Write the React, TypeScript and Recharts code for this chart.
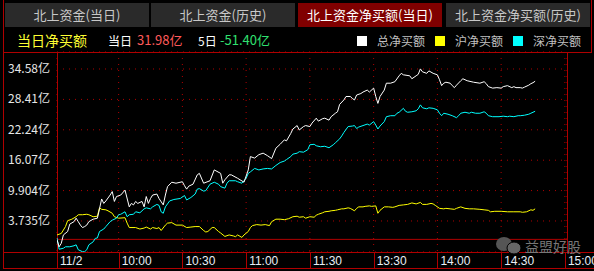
import React from 'react';
import { LineChart, Line, XAxis, YAxis, CartesianGrid, ReferenceLine } from 'recharts';

// minute index (1 = 9:31, 120 = 11:30, 240 = 15:00) and net buy in 亿
const TOTAL: Array<[number, number]> = [
  [1, -0.1], [2, -1.5], [3, -0.8], [4, 0.9], [6, 1.6], [7, 3.1], [9, 3.6], [10, 4.3], [11, 3.6], [12, 2.9],
  [13, 2.4], [14, 2.6], [15, 2.9], [16, 3.6], [18, 4.1], [20, 4.3], [21, 6.2], [22, 8.2], [23, 7.3], [24, 7.8],
  [26, 9.0], [27, 9.7], [28, 7.7], [29, 8.7], [31, 9.0], [33, 10.0], [35, 6.6], [36, 7.3], [37, 7.0], [38, 7.7],
  [39, 7.3], [41, 7.7], [42, 6.6], [43, 8.7], [44, 7.3], [45, 8.3], [46, 9.0], [48, 9.2], [49, 8.3], [51, 7.0],
  [52, 9.0], [53, 10.7], [55, 11.6], [57, 11.4], [60, 11.7], [61, 10.9], [62, 10.2], [63, 10.8], [65, 11.2], [67, 13.1],
  [68, 13.4], [70, 11.4], [73, 11.9], [75, 14.1], [78, 13.4], [79, 11.4], [80, 12.1], [82, 13.1], [83, 13.1], [86, 12.4],
  [89, 11.6], [91, 14.1], [92, 16.8], [94, 16.5], [96, 17.2], [98, 17.5], [100, 17.0], [102, 16.4], [104, 18.5], [106, 19.3],
  [108, 20.2], [109, 20.0], [111, 21.5], [112, 22.4], [114, 23.1], [115, 22.2], [117, 22.9], [118, 23.1], [120, 22.9], [121, 23.6],
  [123, 24.6], [124, 24.0], [126, 24.5], [127, 24.6], [129, 24.2], [130, 24.9], [132, 25.6], [133, 25.9], [134, 27.4], [136, 28.3],
  [137, 29.0], [139, 29.0], [140, 28.6], [141, 28.3], [142, 29.3], [144, 29.6], [145, 29.9], [147, 30.3], [148, 29.9], [150, 30.7],
  [151, 29.0], [152, 27.6], [153, 29.0], [155, 30.3], [156, 31.7], [158, 31.7], [160, 32.0], [162, 33.2], [163, 33.7], [164, 33.4],
  [167, 33.2], [168, 32.6], [170, 33.2], [171, 33.5], [172, 34.6], [173, 34.0], [175, 33.7], [176, 34.2], [178, 33.7], [180, 33.4],
  [181, 32.4], [182, 31.2], [183, 31.7], [184, 31.9], [186, 31.7], [187, 31.2], [188, 30.8], [189, 31.3], [191, 32.2], [192, 32.6],
  [194, 32.2], [197, 31.9], [200, 31.7], [202, 32.0], [203, 31.6], [204, 31.0], [206, 30.7], [208, 30.8], [210, 30.7], [211, 31.0],
  [213, 31.2], [215, 30.8], [216, 31.0], [217, 30.8], [219, 30.8], [220, 30.7], [221, 30.9], [223, 31.3], [224, 31.6], [225, 31.8],
  [226, 32.1],
];

const SH: Array<[number, number]> = [
  [1, 0.9], [3, 1.2], [5, 2.6], [6, 3.8], [8, 4.1], [10, 4.6], [11, 5.0], [13, 5.0], [15, 5.1], [16, 5.0],
  [18, 4.6], [20, 4.7], [21, 6.4], [22, 6.1], [24, 6.0], [25, 5.8], [27, 5.3], [28, 4.6], [30, 4.3], [33, 4.4],
  [34, 3.3], [35, 2.4], [38, 2.4], [40, 2.1], [42, 2.3], [43, 2.5], [45, 2.1], [46, 2.4], [48, 2.2], [49, 2.4],
  [50, 1.8], [52, 2.9], [53, 3.3], [55, 3.4], [57, 2.9], [60, 2.9], [62, 2.4], [64, 2.5], [66, 2.6], [68, 2.6],
  [70, 1.8], [71, 1.5], [72, 1.6], [74, 2.4], [75, 2.4], [77, 1.6], [78, 1.3], [80, 0.6], [82, 0.9], [84, 0.7],
  [85, 0.55], [86, 0.9], [88, 0.4], [89, 0.9], [91, 1.6], [92, 2.4], [93, 2.8], [95, 3.0], [97, 2.9], [99, 3.0],
  [101, 2.8], [102, 3.6], [104, 4.1], [106, 4.1], [108, 4.0], [110, 4.2], [112, 4.6], [114, 4.7], [115, 4.5], [117, 4.6],
  [118, 4.3], [120, 4.6], [122, 4.5], [123, 4.9], [124, 5.1], [126, 5.4], [127, 5.6], [129, 5.7], [130, 5.8], [132, 5.9],
  [133, 6.0], [135, 6.2], [136, 6.2], [138, 6.4], [139, 6.3], [141, 5.8], [142, 6.3], [143, 6.6], [145, 6.6], [146, 6.7],
  [148, 6.8], [149, 6.7], [151, 6.8], [152, 5.3], [153, 5.9], [155, 6.6], [157, 6.6], [159, 6.5], [160, 6.6], [162, 6.9],
  [164, 7.0], [166, 7.1], [168, 7.4], [170, 7.2], [172, 7.5], [173, 7.1], [175, 7.1], [177, 7.3], [178, 7.2], [179, 6.9],
  [181, 6.3], [183, 6.2], [184, 6.3], [186, 6.2], [188, 6.1], [189, 6.3], [191, 6.6], [193, 6.3], [195, 6.2], [197, 6.2],
  [200, 6.1], [202, 6.0], [204, 5.9], [205, 5.6], [207, 5.7], [210, 5.7], [213, 5.6], [216, 5.6], [219, 5.6], [220, 5.5],
  [222, 5.6], [224, 6.0], [225, 5.9], [226, 6.2],
];

const SZ: Array<[number, number]> = [
  [1, 0.3], [2, -2.0], [4, -1.8], [5, -1.5], [7, -1.5], [9, -1.3], [10, -1.1], [11, -2.1], [13, -2.5], [14, -2.5],
  [15, -2.1], [16, -1.1], [18, -0.5], [19, 0.2], [20, 0.3], [21, 1.6], [23, 2.1], [24, 2.6], [26, 3.6], [27, 3.9],
  [29, 4.3], [30, 5.0], [31, 5.1], [33, 5.6], [34, 4.6], [35, 5.0], [37, 5.1], [38, 5.6], [40, 5.4], [42, 6.2],
  [43, 6.4], [45, 6.2], [46, 6.6], [48, 7.1], [49, 6.9], [50, 5.6], [51, 5.3], [52, 6.6], [53, 7.2], [54, 7.8],
  [56, 8.1], [59, 8.3], [61, 8.9], [62, 8.0], [64, 8.5], [66, 9.2], [67, 10.2], [68, 10.3], [70, 9.8], [71, 9.9],
  [73, 11.2], [75, 11.6], [77, 11.2], [78, 10.7], [80, 10.4], [81, 11.4], [82, 11.9], [85, 11.9], [86, 11.7], [88, 11.4],
  [90, 12.4], [91, 13.4], [92, 13.7], [94, 14.4], [96, 14.1], [98, 14.3], [100, 14.4], [102, 14.3], [104, 15.0], [105, 15.3],
  [106, 15.6], [108, 15.9], [109, 16.2], [111, 16.8], [112, 17.3], [114, 17.5], [115, 17.8], [117, 17.7], [119, 18.2], [120, 19.2],
  [122, 19.3], [123, 19.0], [125, 18.8], [127, 18.9], [129, 18.6], [131, 19.2], [132, 19.6], [134, 20.4], [135, 21.0], [136, 21.7],
  [138, 22.9], [140, 23.0], [141, 23.1], [142, 22.5], [143, 22.8], [145, 23.1], [147, 23.4], [148, 23.2], [150, 23.9], [151, 23.2],
  [152, 22.4], [153, 23.0], [155, 23.9], [156, 24.9], [158, 25.1], [160, 25.1], [161, 25.6], [162, 25.8], [164, 26.6], [165, 26.0],
  [166, 25.8], [168, 25.9], [170, 26.1], [171, 26.5], [172, 27.3], [173, 26.7], [175, 26.5], [176, 26.7], [178, 26.6], [180, 26.3],
  [181, 25.6], [182, 25.1], [183, 25.6], [185, 25.4], [187, 25.1], [189, 24.7], [190, 25.1], [191, 25.6], [193, 25.8], [195, 25.6],
  [196, 25.8], [198, 25.6], [200, 25.6], [202, 25.9], [203, 25.6], [204, 25.1], [206, 24.9], [209, 24.9], [211, 25.0], [213, 24.9],
  [214, 25.0], [216, 24.9], [218, 25.1], [219, 25.1], [221, 25.2], [223, 25.4], [224, 25.6], [226, 26.0],
];

const X_TICKS = [1, 30, 60, 90, 120, 150, 180, 210, 240];
const X_LABELS = ['11/2', '10:00', '10:30', '11:00', '11:30', '13:30', '14:00', '14:30', '15:00'];
const Y_TICKS = [3.735, 9.904, 16.073, 22.242, 28.411, 34.58];
const Y_LABELS = ['3.735亿', '9.904亿', '16.07亿', '22.24亿', '28.41亿', '34.58亿'];

const TABS = ['北上资金(当日)', '北上资金(历史)', '北上资金净买额(当日)', '北上资金净买额(历史)'];
const ACTIVE_TAB = 2;
const LEGEND = [
  { name: '总净买额', color: '#ffffff' },
  { name: '沪净买额', color: '#ffff00' },
  { name: '深净买额', color: '#00ffff' },
];

const RED = '#b00000';
const GRID = '#b00000';
const FONT = '"Noto Sans CJK SC", "Noto Sans", sans-serif';

const toRows = (pts: Array<[number, number]>) => pts.map(([t, v]) => ({ t, v }));

function XTick({ x, payload }: any) {
  const i = X_TICKS.indexOf(payload.value);
  const lx = Math.round(x) + 0.5;
  return (
    <g>
      <line x1={lx} x2={lx} y1={252} y2={269} stroke={RED} />
      <text x={x + 3} y={265} fill="#e8eef6" fontSize={12} fontFamily='"Liberation Sans", Arial, sans-serif'>
        {X_LABELS[i]}
      </text>
    </g>
  );
}

function YTick({ y, payload }: any) {
  const i = Y_TICKS.indexOf(payload.value);
  return (
    <text x={50} y={y + 4} textAnchor="end" fill="#e6e6e6" fontSize={12} fontFamily={FONT}>
      {Y_LABELS[i]}
    </text>
  );
}

export default function App() {
  const tabLeft = [5, 151, 298, 446];
  return (
    <div style={{ position: 'absolute', left: 0, top: 0, width: 594, height: 271, background: '#000', overflow: 'hidden', fontFamily: FONT }}>
      {TABS.map((t, i) => (
        <div
          key={t}
          style={{
            position: 'absolute', left: tabLeft[i], top: 3, width: 144, height: 24, lineHeight: '24px', textAlign: 'center',
            fontSize: 13, background: i === ACTIVE_TAB ? '#800000' : '#2a2a2a', color: i === ACTIVE_TAB ? '#fff' : '#c8c8c8',
          }}
        >
          {t}
        </div>
      ))}
      <div style={{ position: 'absolute', left: 17, top: 31, fontSize: 14, lineHeight: '18px', color: '#ffff33' }}>当日净买额</div>
      <div style={{ position: 'absolute', left: 108, top: 32, fontSize: 12, lineHeight: '17px', color: '#fff' }}>当日</div>
      <div style={{ position: 'absolute', left: 137, top: 31, fontSize: 13, lineHeight: '18px', color: '#ff5a5a' }}>31.98亿</div>
      <div style={{ position: 'absolute', left: 198, top: 32, fontSize: 12, lineHeight: '17px', color: '#fff' }}>5日</div>
      <div style={{ position: 'absolute', left: 220, top: 31, fontSize: 13, lineHeight: '18px', color: '#30e070' }}>-51.40亿</div>
      {LEGEND.map((l, i) => (
        <div key={l.name} style={{ position: 'absolute', left: 357 + i * 78, top: 32, display: 'flex', alignItems: 'center' }}>
          <span style={{ width: 10, height: 10, background: l.color, display: 'inline-block' }} />
          <span style={{ marginLeft: 10, fontSize: 12, lineHeight: '17px', color: '#c0c0c0' }}>{l.name}</span>
        </div>
      ))}

      <svg width={594} height={271} style={{ position: 'absolute', left: 0, top: 0 }}>
        <line x1={3.5} x2={3.5} y1={0} y2={269} stroke={RED} />
        <line x1={591.5} x2={591.5} y1={0} y2={53} stroke={RED} />
        <line x1={3} x2={592} y1={52.5} y2={52.5} stroke={RED} />
        <line x1={57.5} x2={57.5} y1={52} y2={269} stroke={RED} />
        <line x1={567.5} x2={567.5} y1={52} y2={252} stroke={RED} />
        <line x1={3} x2={594} y1={252.5} y2={252.5} stroke={RED} />
        <line x1={3} x2={594} y1={268.5} y2={268.5} stroke={RED} />
      </svg>

      <div style={{ position: 'absolute', left: 0, top: 0 }}>
        <LineChart width={594} height={271} margin={{ top: 52, right: 27, bottom: 0, left: 0 }}>
          <CartesianGrid stroke={GRID} strokeDasharray="1 5" />
          <XAxis
            dataKey="t" type="number" domain={[1, 241]} ticks={X_TICKS} interval={0} height={19}
            axisLine={false} tickLine={false} tick={<XTick />} allowDataOverflow
          />
          <YAxis
            type="number" domain={[-2.56, 38.03]} ticks={Y_TICKS} interval={0} width={57}
            axisLine={false} tickLine={false} tick={<YTick />} allowDataOverflow
          />
          <ReferenceLine y={0} stroke={RED} />
          <Line data={toRows(SH)} dataKey="v" stroke="#ffff00" strokeWidth={1} dot={false} isAnimationActive={false} />
          <Line data={toRows(SZ)} dataKey="v" stroke="#00ffff" strokeWidth={1} dot={false} isAnimationActive={false} />
          <Line data={toRows(TOTAL)} dataKey="v" stroke="#ffffff" strokeWidth={1} dot={false} isAnimationActive={false} />
        </LineChart>
      </div>

      <svg width={594} height={271} style={{ position: 'absolute', left: 0, top: 0, pointerEvents: 'none' }}>
        <ellipse cx={504} cy={244} rx={8} ry={7} fill="#555" />
        <ellipse cx={514} cy={248} rx={7} ry={6} fill="#666" stroke="#000" strokeWidth={1} />
        <text x={525} y={252} fill="#777" fontSize={14} fontFamily={FONT}>益盟好股</text>
      </svg>
    </div>
  );
}
